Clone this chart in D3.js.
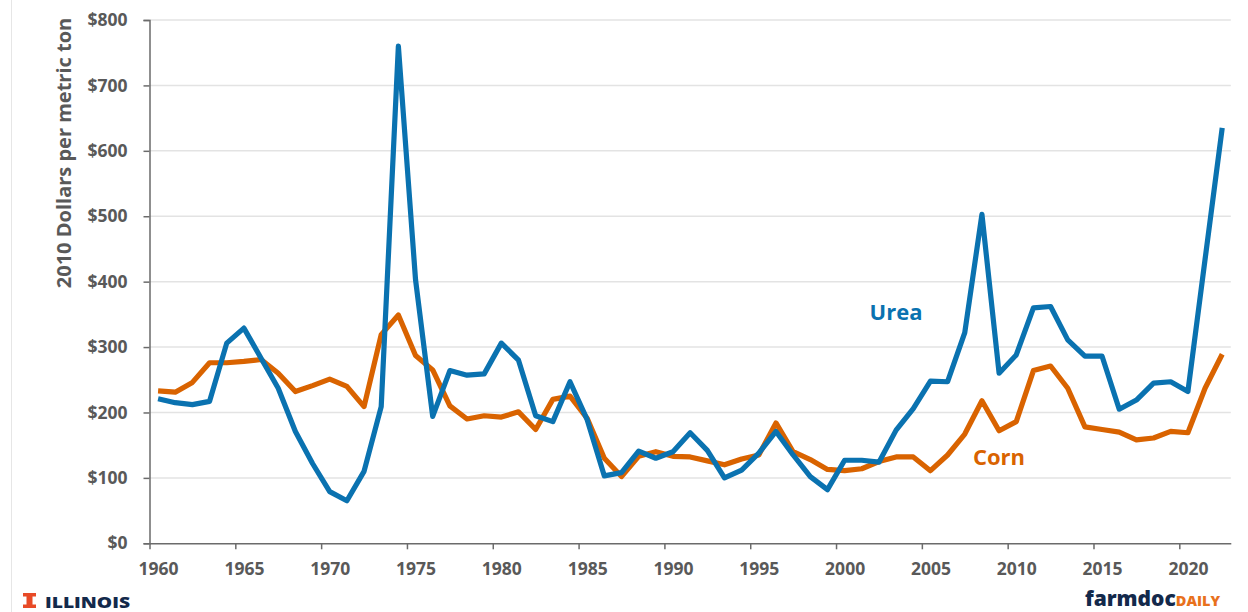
<!DOCTYPE html>
<html>
<head>
<meta charset="utf-8">
<script src="https://cdn.jsdelivr.net/npm/d3@7/dist/d3.min.js"></script>
<style>
  html, body { margin: 0; padding: 0; background: #fff; }
  svg { display: block; }
  text { font-family: "Open Sans", "Noto Sans", sans-serif; }
</style>
</head>
<body>
<svg id="chart" width="1248" height="612"></svg>
<script>
const years = d3.range(1960, 2023);
const urea = [221,215,212,217,306,329,283,237,171,122,
              79,65,110,209,760,403,194,264,257,259,
              306,280,195,186,247,189,103,108,141,130,
              140,169,142,100,112,138,171,135,102,82,
              127,127,124,173,206,248,247,322,503,260,
              288,360,362,311,286,286,205,219,245,247,
              232,434,635];
const corn = [233,231,246,276,276,278,281,260,232,241,
              251,240,209,319,349,287,265,210,190,195,
              193,201,174,220,225,191,130,102,133,140,
              133,132,126,120,129,135,184,140,128,113,
              111,114,125,132,132,111,135,167,218,172,
              186,264,271,237,178,174,170,158,161,171,
              169,237,289];
const yTicks = [0,100,200,300,400,500,600,700,800];
const xTicks = [1960,1965,1970,1975,1980,1985,1990,1995,2000,2005,2010,2015,2020];
const seriesNames = ["Urea", "Corn"];

const svg = d3.select("#chart");
const x = d3.scaleLinear().domain([1960, 2023]).range([149.5, 1230.8]);
const y = d3.scaleLinear().domain([0, 800]).range([543.3, 20]);
const blue = "#0A72B0", orange = "#D96300", axisCol = "#6b6b6b", labCol = "#595959";

// faint page border
svg.append("line").attr("x1", 11.5).attr("x2", 11.5).attr("y1", 0).attr("y2", 612)
  .attr("stroke", "#e6e6e6").attr("stroke-width", 1);

// gridlines
svg.append("g").selectAll("line").data(yTicks.filter(d => d > 0)).join("line")
  .attr("x1", x(1960)).attr("x2", x(2023))
  .attr("y1", d => y(d)).attr("y2", d => y(d))
  .attr("stroke", "#e3e3e3").attr("stroke-width", 1.5);

// y axis
const gy = svg.append("g").attr("transform", `translate(${x(1960)},0)`)
  .call(d3.axisLeft(y).tickValues(yTicks).tickSize(6).tickPadding(16).tickFormat(d => "$" + d));
gy.select(".domain").attr("stroke", axisCol).attr("stroke-width", 1.5);
gy.selectAll(".tick line").attr("stroke", axisCol).attr("stroke-width", 1.5);
gy.selectAll(".tick text").attr("fill", labCol).attr("font-size", 17.5).attr("font-weight", 700)
  .style("font-family", '"Open Sans", sans-serif');

// x axis
const halfStep = (x(1961) - x(1960)) / 2;
const gx = svg.append("g").attr("transform", `translate(0,${y(0)})`)
  .call(d3.axisBottom(x).tickValues(xTicks).tickSize(6).tickPadding(13).tickFormat(d => String(d)).tickSizeOuter(0));
gx.select(".domain").attr("stroke", axisCol).attr("stroke-width", 1.5);
gx.selectAll(".tick line").attr("stroke", axisCol).attr("stroke-width", 1.5);
gx.selectAll(".tick text").attr("fill", labCol).attr("font-size", 17.5).attr("font-weight", 700)
  .attr("dx", halfStep).style("font-family", '"Open Sans", sans-serif');

// y axis title
svg.append("text").attr("transform", "translate(71,153) rotate(-90)")
  .attr("text-anchor", "middle").attr("fill", labCol).attr("font-size", 20).attr("font-weight", 700)
  .text("2010 Dollars per metric ton");

// lines
const line = d3.line().x((d, i) => x(years[i] + 0.5)).y(d => y(d));
svg.append("path").datum(corn).attr("d", line).attr("fill", "none")
  .attr("stroke", orange).attr("stroke-width", 5.2).attr("stroke-linejoin", "round");
svg.append("path").datum(urea).attr("d", line).attr("fill", "none")
  .attr("stroke", blue).attr("stroke-width", 5.2).attr("stroke-linejoin", "round");

// series labels
svg.append("text").attr("x", 896).attr("y", 320).attr("text-anchor", "middle")
  .attr("fill", blue).attr("font-size", 22).attr("font-weight", 700).text(seriesNames[0]);
svg.append("text").attr("x", 999).attr("y", 465).attr("text-anchor", "middle")
  .attr("fill", orange).attr("font-size", 22).attr("font-weight", 700).text(seriesNames[1]);

// Illinois logo
const logo = svg.append("g").attr("fill", "#E84A27");
logo.append("rect").attr("x", 23).attr("y", 593).attr("width", 13).attr("height", 3.5);
logo.append("rect").attr("x", 26.5).attr("y", 596).attr("width", 6).attr("height", 9);
logo.append("rect").attr("x", 23).attr("y", 604.5).attr("width", 13).attr("height", 3.5);
svg.append("text").attr("x", 45).attr("y", 607.5).attr("fill", "#13294B")
  .attr("font-size", 16).attr("font-weight", 800).attr("textLength", 85).attr("lengthAdjust", "spacingAndGlyphs")
  .text("ILLINOIS");

// farmdoc daily logo
const fd = svg.append("text").attr("x", 1085).attr("y", 606).attr("font-weight", 800);
fd.append("tspan").attr("fill", "#13294B").attr("font-size", 21).text("farmdoc");
fd.append("tspan").attr("fill", "#E8711C").attr("font-size", 14.5).text("DAILY");
</script>
</body>
</html>
